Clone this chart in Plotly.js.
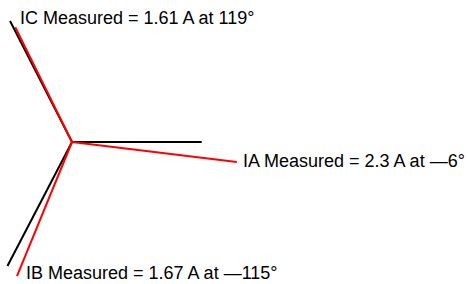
<!DOCTYPE html>
<html>
<head>
<meta charset="utf-8">
<script src="https://cdn.plot.ly/plotly-3.0.1.min.js"></script>
<style>html,body{margin:0;padding:0;background:#fff;}#chart{width:468px;height:284px;}</style>
</head>
<body>
<div id="chart"></div>
<script>
// Phasor names
var phases = ["IA", "IB", "IC"];
// Reference (black) phasors as drawn: length (display units) and angle (deg)
var refMag = [129.7, 139.8, 136];
var refAngle = [0, -117.5, 117.1];
// Measured (red) phasors as drawn
var measMag = [166, 145, 128];
var measAngle = [-6.9, -112.3, 116.3];
// Label values
var measAmps = ["2.3", "1.67", "1.61"];
var measDeg = ["—6", "—115", "119"];
// Label anchor positions (display units)
var labelX = [169, -48, -54];
var labelY = [-19, -131, 124];

function toXY(mag, ang) {
  var xs = [], ys = [];
  for (var i = 0; i < mag.length; i++) {
    var a = ang[i] * Math.PI / 180;
    xs.push(0, mag[i] * Math.cos(a), null);
    ys.push(0, mag[i] * Math.sin(a), null);
  }
  return {x: xs, y: ys};
}
var ref = toXY(refMag, refAngle);
var meas = toXY(measMag, measAngle);

var traces = [
  {x: ref.x, y: ref.y, mode: "lines", type: "scatter", line: {color: "#000000", width: 2}, hoverinfo: "skip"},
  {x: meas.x, y: meas.y, mode: "lines", type: "scatter", line: {color: "#ff0000", width: 2}, hoverinfo: "skip"}
];

var annotations = phases.map(function (p, i) {
  return {
    x: labelX[i], y: labelY[i], xref: "x", yref: "y",
    text: p + " Measured = " + measAmps[i] + " A at " + measDeg[i] + "°",
    showarrow: false, xanchor: "left", yanchor: "middle",
    font: {family: "Liberation Sans, Arial, sans-serif", size: 18, color: "#000"}
  };
});

var layout = {
  width: 468, height: 284,
  margin: {l: 0, r: 0, t: 0, b: 0},
  paper_bgcolor: "#fff", plot_bgcolor: "#fff",
  showlegend: false,
  xaxis: {range: [-72, 396], visible: false, fixedrange: true},
  yaxis: {range: [-142, 142], visible: false, fixedrange: true},
  annotations: annotations
};
Plotly.newPlot("chart", traces, layout, {staticPlot: true, displayModeBar: false});
</script>
</body>
</html>
